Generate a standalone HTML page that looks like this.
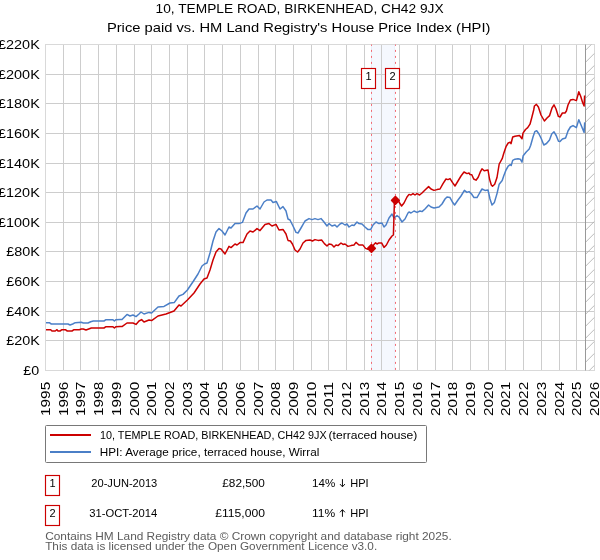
<!DOCTYPE html>
<html><head><meta charset="utf-8"><title>chart</title>
<style>html,body{margin:0;padding:0;background:#fff}svg{display:block}text{font-family:"Liberation Sans",sans-serif}</style></head><body>
<svg width="600" height="560" viewBox="0 0 600 560">
<rect width="600" height="560" fill="#fff"/>
<rect x="371.1" y="44.50" width="23.7" height="326.00" fill="#f5f8fe"/>
<path d="M371.5 44.50V370.50" stroke="#e6edfa" stroke-width="1" fill="none"/>
<path d="M394.5 44.50V370.50" stroke="#e9effb" stroke-width="0.8" fill="none"/>
<path d="M63.5 44.5V371.0M80.5 44.5V371.0M98.5 44.5V371.0M116.5 44.5V371.0M134.5 44.5V371.0M151.5 44.5V371.0M169.5 44.5V371.0M187.5 44.5V371.0M204.5 44.5V371.0M222.5 44.5V371.0M240.5 44.5V371.0M258.5 44.5V371.0M275.5 44.5V371.0M293.5 44.5V371.0M311.5 44.5V371.0M328.5 44.5V371.0M346.5 44.5V371.0M364.5 44.5V371.0M381.5 44.5V371.0M399.5 44.5V371.0M417.5 44.5V371.0M435.5 44.5V371.0M452.5 44.5V371.0M470.5 44.5V371.0M488.5 44.5V371.0M505.5 44.5V371.0M523.5 44.5V371.0M541.5 44.5V371.0M559.5 44.5V371.0M576.5 44.5V371.0M45.0 340.5H595.0M45.0 311.5H595.0M45.0 281.5H595.0M45.0 251.5H595.0M45.0 222.5H595.0M45.0 192.5H595.0M45.0 163.5H595.0M45.0 133.5H595.0M45.0 103.5H595.0M45.0 74.5H595.0" stroke="#cdcdcd" stroke-width="1" fill="none"/>
<path d="M45.5 44.5V371.0M594.5 44.5V371.0M45.0 370.5H595.0M45.0 44.5H595.0" stroke="#d9d9d9" stroke-width="1" fill="none"/>
<defs><clipPath id="hc"><rect x="585.50" y="44.50" width="9.01" height="326.00"/></clipPath></defs>
<path d="M585.50 26.30L594.51 17.29M585.50 38.30L594.51 29.29M585.50 50.30L594.51 41.29M585.50 62.30L594.51 53.29M585.50 74.30L594.51 65.29M585.50 86.30L594.51 77.29M585.50 98.30L594.51 89.29M585.50 110.30L594.51 101.29M585.50 122.30L594.51 113.29M585.50 134.30L594.51 125.29M585.50 146.30L594.51 137.29M585.50 158.30L594.51 149.29M585.50 170.30L594.51 161.29M585.50 182.30L594.51 173.29M585.50 194.30L594.51 185.29M585.50 206.30L594.51 197.29M585.50 218.30L594.51 209.29M585.50 230.30L594.51 221.29M585.50 242.30L594.51 233.29M585.50 254.30L594.51 245.29M585.50 266.30L594.51 257.29M585.50 278.30L594.51 269.29M585.50 290.30L594.51 281.29M585.50 302.30L594.51 293.29M585.50 314.30L594.51 305.29M585.50 326.30L594.51 317.29M585.50 338.30L594.51 329.29M585.50 350.30L594.51 341.29M585.50 362.30L594.51 353.29M585.50 374.30L594.51 365.29M585.50 386.30L594.51 377.29M585.50 398.30L594.51 389.29M585.50 410.30L594.51 401.29M585.50 422.30L594.51 413.29M585.50 434.30L594.51 425.29M585.50 446.30L594.51 437.29M585.50 458.30L594.51 449.29M585.50 470.30L594.51 461.29M585.50 482.30L594.51 473.29M585.50 494.30L594.51 485.29M585.50 506.30L594.51 497.29M585.50 518.30L594.51 509.29" stroke="#a9a9a9" stroke-width="0.8" fill="none" clip-path="url(#hc)"/>
<path d="M585.50 44.50V370.50" stroke="#999999" stroke-width="1" fill="none"/>
<path d="M371.5 44.50V370.50" stroke="#f26c74" stroke-width="1" stroke-dasharray="2 4" stroke-dashoffset="0.6" fill="none"/>
<path d="M395.5 44.50V370.50" stroke="#f26c74" stroke-width="1" stroke-dasharray="2 4" stroke-dashoffset="0.6" fill="none"/>
<polyline points="46.0,322.7 49.3,322.7 51.3,324.0 68.0,324.0 70.0,325.0 72.7,324.0 75.3,322.7 81.3,322.3 83.3,323.0 88.0,323.0 90.7,321.7 93.3,321.0 104.0,321.0 106.0,319.7 112.7,319.7 114.4,321.0 116.0,319.7 120.0,319.6 122.0,319.6 127.0,314.4 130.0,316.0 133.0,315.0 136.0,316.6 139.0,314.0 141.0,312.0 144.0,314.0 149.0,312.4 151.6,313.0 158.0,307.0 164.0,306.4 170.0,303.0 174.4,302.4 179.0,296.0 183.0,294.4 187.4,290.0 193.5,281.0 198.0,274.0 202.0,266.0 204.5,264.0 207.0,263.0 210.0,253.0 213.0,241.0 216.0,232.0 219.0,228.6 222.0,231.0 225.0,235.0 229.0,227.0 231.0,228.0 235.0,223.6 239.0,223.6 242.4,222.4 246.0,213.0 249.0,209.0 253.0,209.0 257.0,206.0 260.0,209.0 264.0,202.0 267.0,200.0 271.0,200.0 273.0,202.4 276.4,201.6 280.0,209.0 283.0,206.6 286.0,211.0 288.0,219.0 290.0,220.0 293.0,226.0 296.0,232.4 298.0,233.0 301.0,228.0 305.0,221.0 309.0,218.6 312.0,219.6 315.0,218.6 318.0,219.6 321.0,218.6 324.0,222.0 327.0,226.0 329.0,223.6 332.0,226.0 335.0,225.0 337.0,227.0 340.0,224.0 342.0,223.0 345.0,225.0 347.0,224.0 349.0,227.0 352.0,225.0 354.0,225.6 357.0,222.0 359.0,223.6 362.0,224.0 365.0,227.0 368.0,229.6 370.6,229.6 373.0,225.0 376.0,222.0 379.0,223.6 382.0,223.0 384.0,227.0 386.0,225.0 389.0,218.0 392.0,214.0 394.0,218.0 397.0,215.6 399.0,217.0 402.0,222.0 405.0,219.0 408.0,213.0 409.0,212.0 411.0,213.0 414.0,211.0 417.0,212.4 420.0,211.0 422.0,211.6 425.0,209.0 428.6,205.0 431.0,207.0 434.0,208.0 439.0,207.0 442.0,204.0 445.0,199.0 447.0,197.0 450.0,197.6 452.4,202.0 454.6,205.0 458.0,200.0 461.0,196.0 464.4,190.4 467.0,192.4 469.0,191.6 471.6,194.0 474.0,197.6 477.0,197.6 479.6,193.0 482.0,189.0 485.0,190.4 488.0,190.0 490.0,199.0 492.0,205.0 494.4,202.4 497.0,193.6 499.2,184.2 502.2,180.5 503.7,176.0 506.0,170.0 508.2,166.2 510.2,164.7 511.2,165.5 512.7,160.4 515.0,159.2 518.0,158.7 520.2,159.2 522.0,162.2 523.2,155.7 526.2,152.0 529.2,149.0 530.7,145.2 533.0,137.0 534.8,131.7 536.7,130.7 539.0,134.0 541.2,138.5 543.8,145.0 546.5,143.5 549.5,140.0 551.7,134.0 554.0,131.8 556.2,135.5 558.5,141.3 560.0,141.6 562.4,139.0 565.6,138.0 568.0,131.0 570.4,127.0 573.0,125.6 576.4,127.6 578.8,119.8 580.6,124.0 584.1,132.4 584.7,122.4" fill="none" stroke="#4b7fc7" stroke-width="1.5" stroke-linejoin="round" stroke-linecap="butt"/>
<polyline points="46.0,329.7 50.7,329.7 52.0,331.0 55.3,331.0 57.0,329.7 58.0,331.0 60.0,331.0 62.0,329.7 65.3,329.7 67.3,331.0 72.0,331.0 74.0,329.7 79.3,329.7 81.3,329.0 83.3,329.0 86.0,330.0 88.7,329.0 91.3,328.0 104.0,328.0 106.0,326.7 112.7,326.7 114.4,328.0 116.0,326.7 120.0,326.4 122.0,326.6 127.0,323.0 133.0,323.0 136.0,324.4 139.0,321.0 141.6,319.6 144.0,322.0 149.0,320.0 151.6,320.6 158.0,316.0 166.0,314.0 174.0,311.0 179.0,305.0 181.0,306.0 187.4,300.0 194.0,293.0 200.0,284.0 204.0,279.0 207.0,278.0 210.0,270.0 213.0,260.0 216.0,252.0 219.0,248.6 221.0,249.0 225.0,254.0 229.0,246.4 231.0,247.6 235.0,244.0 237.0,245.0 240.0,242.6 243.0,242.6 247.0,234.0 250.0,231.0 253.0,232.0 257.0,228.6 260.0,230.6 265.0,224.6 269.0,223.6 272.0,226.0 276.0,224.4 279.0,230.0 283.0,229.4 286.0,234.0 288.0,240.4 290.4,241.0 292.4,244.0 295.0,250.0 297.6,252.0 300.0,249.0 303.0,243.0 306.0,240.4 310.0,240.0 312.4,241.0 315.0,239.6 318.0,240.4 321.6,240.0 324.4,243.6 327.0,246.0 329.0,244.0 331.6,244.4 334.0,247.0 336.0,245.0 338.0,245.6 341.0,243.0 343.0,244.4 345.0,244.0 348.0,246.4 351.0,245.6 354.0,245.0 356.0,242.4 359.0,245.0 362.8,244.9 365.5,248.4 368.0,249.3 371.4,248.5 374.2,244.2 375.6,242.7 377.0,244.0 378.9,242.9 381.6,242.9 384.0,247.4 386.4,245.0 389.0,240.0 392.0,236.0 393.4,235.0 394.4,202.0 395.4,200.0 398.0,200.5 401.6,206.0 404.0,203.0 407.0,197.0 409.0,194.4 411.0,195.0 413.0,193.6 415.0,195.0 417.0,193.6 419.6,195.0 422.0,193.0 425.0,190.0 428.6,186.6 431.0,189.0 434.0,190.4 437.0,189.6 440.0,189.0 443.0,183.6 446.0,179.0 448.0,179.6 450.0,178.6 452.4,182.4 455.0,186.0 458.0,181.0 461.0,176.0 464.0,172.0 467.0,173.6 469.0,173.0 470.0,174.5 471.8,174.8 473.7,179.0 476.0,180.2 478.2,177.2 480.2,172.2 482.0,168.8 484.2,170.7 488.0,170.0 489.5,179.0 491.3,185.0 492.5,186.2 494.7,184.2 497.0,177.5 499.2,164.0 502.2,158.7 503.7,153.5 506.0,146.7 508.2,143.0 510.2,142.2 511.0,143.7 512.7,137.0 515.0,136.2 519.5,135.5 522.0,138.8 523.0,133.2 525.5,129.5 527.7,127.7 530.0,124.2 531.8,117.5 533.7,110.0 534.4,106.0 536.4,104.4 538.4,107.0 541.0,115.0 544.4,121.0 547.0,118.0 549.6,115.6 552.0,108.0 554.0,104.8 556.0,109.0 558.4,116.4 560.0,117.0 562.4,113.0 565.0,113.0 566.4,111.0 568.0,105.0 570.4,100.0 573.0,99.4 576.4,100.6 578.8,91.8 580.6,96.0 582.6,102.5 584.1,106.0 584.6,95.5" fill="none" stroke="#cc0000" stroke-width="1.5" stroke-linejoin="round" stroke-linecap="butt"/>
<path d="M371.45 244.75L375.15 248.45L371.45 252.14999999999998L367.75 248.45Z" fill="#cc0000" stroke="#cc0000" stroke-width="1.8" stroke-linejoin="round"/>
<path d="M395.4 196.75L399.09999999999997 200.45L395.4 204.14999999999998L391.7 200.45Z" fill="#cc0000" stroke="#cc0000" stroke-width="1.8" stroke-linejoin="round"/>
<rect x="361.5" y="68.5" width="14" height="20" fill="#fff" stroke="#cc0000" stroke-width="1.15"/>
<rect x="385.5" y="68.5" width="14" height="20" fill="#fff" stroke="#cc0000" stroke-width="1.15"/>
<rect x="45.5" y="425.5" width="381" height="37" rx="1" fill="#fff" stroke="#787878" stroke-width="1"/>
<path d="M50 435H91" stroke="#cc0000" stroke-width="2"/>
<path d="M50 452H91" stroke="#4b7fc7" stroke-width="2"/>
<rect x="45.5" y="475.5" width="14" height="20" fill="#fff" stroke="#cc0000" stroke-width="1.15"/>
<rect x="45.5" y="505.5" width="14" height="20" fill="#fff" stroke="#cc0000" stroke-width="1.15"/>
<path d="M342.45 479.1V486.6M340.0 484.1L342.45 486.8L344.9 484.1" stroke="#000" stroke-width="0.95" fill="none"/>
<path d="M342.45 516.8V509.9M340.0 512.3L342.45 509.6L344.9 512.3" stroke="#000" stroke-width="0.95" fill="none"/>
<g style="filter:grayscale(1)">
<text x="368.50" y="79.90" font-size="11" text-anchor="middle" fill="#000">1</text>
<text x="392.50" y="79.90" font-size="11" text-anchor="middle" fill="#000">2</text>
<text x="155.60" y="12.90" font-size="12.6" text-anchor="start" fill="#000" textLength="288.0" lengthAdjust="spacingAndGlyphs">10, TEMPLE ROAD, BIRKENHEAD, CH42 9JX</text>
<text x="106.90" y="31.70" font-size="12.6" text-anchor="start" fill="#000" textLength="383.5" lengthAdjust="spacingAndGlyphs">Price paid vs. HM Land Registry's House Price Index (HPI)</text>
<text x="23.30" y="374.60" font-size="12.8" text-anchor="start" fill="#000" textLength="15.9" lengthAdjust="spacingAndGlyphs">£0</text>
<text x="6.20" y="344.60" font-size="12.8" text-anchor="start" fill="#000" textLength="33.6" lengthAdjust="spacingAndGlyphs">£20K</text>
<text x="6.20" y="315.60" font-size="12.8" text-anchor="start" fill="#000" textLength="33.6" lengthAdjust="spacingAndGlyphs">£40K</text>
<text x="6.20" y="285.60" font-size="12.8" text-anchor="start" fill="#000" textLength="33.6" lengthAdjust="spacingAndGlyphs">£60K</text>
<text x="6.20" y="255.60" font-size="12.8" text-anchor="start" fill="#000" textLength="33.6" lengthAdjust="spacingAndGlyphs">£80K</text>
<text x="-2.00" y="226.60" font-size="12.8" text-anchor="start" fill="#000" textLength="41.8" lengthAdjust="spacingAndGlyphs">£100K</text>
<text x="-2.00" y="196.60" font-size="12.8" text-anchor="start" fill="#000" textLength="41.8" lengthAdjust="spacingAndGlyphs">£120K</text>
<text x="-2.00" y="167.60" font-size="12.8" text-anchor="start" fill="#000" textLength="41.8" lengthAdjust="spacingAndGlyphs">£140K</text>
<text x="-2.00" y="137.60" font-size="12.8" text-anchor="start" fill="#000" textLength="41.8" lengthAdjust="spacingAndGlyphs">£160K</text>
<text x="-2.00" y="107.60" font-size="12.8" text-anchor="start" fill="#000" textLength="41.8" lengthAdjust="spacingAndGlyphs">£180K</text>
<text x="-2.00" y="78.60" font-size="12.8" text-anchor="start" fill="#000" textLength="41.8" lengthAdjust="spacingAndGlyphs">£200K</text>
<text x="-2.00" y="48.60" font-size="12.8" text-anchor="start" fill="#000" textLength="41.8" lengthAdjust="spacingAndGlyphs">£220K</text>
<text transform="translate(50.00,416.0) rotate(-90)" font-size="12.6" textLength="34.2" lengthAdjust="spacingAndGlyphs">1995</text>
<text transform="translate(67.71,416.0) rotate(-90)" font-size="12.6" textLength="34.2" lengthAdjust="spacingAndGlyphs">1996</text>
<text transform="translate(85.42,416.0) rotate(-90)" font-size="12.6" textLength="34.2" lengthAdjust="spacingAndGlyphs">1997</text>
<text transform="translate(103.13,416.0) rotate(-90)" font-size="12.6" textLength="34.2" lengthAdjust="spacingAndGlyphs">1998</text>
<text transform="translate(120.84,416.0) rotate(-90)" font-size="12.6" textLength="34.2" lengthAdjust="spacingAndGlyphs">1999</text>
<text transform="translate(138.55,416.0) rotate(-90)" font-size="12.6" textLength="34.2" lengthAdjust="spacingAndGlyphs">2000</text>
<text transform="translate(156.26,416.0) rotate(-90)" font-size="12.6" textLength="34.2" lengthAdjust="spacingAndGlyphs">2001</text>
<text transform="translate(173.97,416.0) rotate(-90)" font-size="12.6" textLength="34.2" lengthAdjust="spacingAndGlyphs">2002</text>
<text transform="translate(191.68,416.0) rotate(-90)" font-size="12.6" textLength="34.2" lengthAdjust="spacingAndGlyphs">2003</text>
<text transform="translate(209.39,416.0) rotate(-90)" font-size="12.6" textLength="34.2" lengthAdjust="spacingAndGlyphs">2004</text>
<text transform="translate(227.10,416.0) rotate(-90)" font-size="12.6" textLength="34.2" lengthAdjust="spacingAndGlyphs">2005</text>
<text transform="translate(244.81,416.0) rotate(-90)" font-size="12.6" textLength="34.2" lengthAdjust="spacingAndGlyphs">2006</text>
<text transform="translate(262.52,416.0) rotate(-90)" font-size="12.6" textLength="34.2" lengthAdjust="spacingAndGlyphs">2007</text>
<text transform="translate(280.23,416.0) rotate(-90)" font-size="12.6" textLength="34.2" lengthAdjust="spacingAndGlyphs">2008</text>
<text transform="translate(297.94,416.0) rotate(-90)" font-size="12.6" textLength="34.2" lengthAdjust="spacingAndGlyphs">2009</text>
<text transform="translate(315.65,416.0) rotate(-90)" font-size="12.6" textLength="34.2" lengthAdjust="spacingAndGlyphs">2010</text>
<text transform="translate(333.36,416.0) rotate(-90)" font-size="12.6" textLength="34.2" lengthAdjust="spacingAndGlyphs">2011</text>
<text transform="translate(351.07,416.0) rotate(-90)" font-size="12.6" textLength="34.2" lengthAdjust="spacingAndGlyphs">2012</text>
<text transform="translate(368.78,416.0) rotate(-90)" font-size="12.6" textLength="34.2" lengthAdjust="spacingAndGlyphs">2013</text>
<text transform="translate(386.49,416.0) rotate(-90)" font-size="12.6" textLength="34.2" lengthAdjust="spacingAndGlyphs">2014</text>
<text transform="translate(404.20,416.0) rotate(-90)" font-size="12.6" textLength="34.2" lengthAdjust="spacingAndGlyphs">2015</text>
<text transform="translate(421.91,416.0) rotate(-90)" font-size="12.6" textLength="34.2" lengthAdjust="spacingAndGlyphs">2016</text>
<text transform="translate(439.62,416.0) rotate(-90)" font-size="12.6" textLength="34.2" lengthAdjust="spacingAndGlyphs">2017</text>
<text transform="translate(457.33,416.0) rotate(-90)" font-size="12.6" textLength="34.2" lengthAdjust="spacingAndGlyphs">2018</text>
<text transform="translate(475.04,416.0) rotate(-90)" font-size="12.6" textLength="34.2" lengthAdjust="spacingAndGlyphs">2019</text>
<text transform="translate(492.75,416.0) rotate(-90)" font-size="12.6" textLength="34.2" lengthAdjust="spacingAndGlyphs">2020</text>
<text transform="translate(510.46,416.0) rotate(-90)" font-size="12.6" textLength="34.2" lengthAdjust="spacingAndGlyphs">2021</text>
<text transform="translate(528.17,416.0) rotate(-90)" font-size="12.6" textLength="34.2" lengthAdjust="spacingAndGlyphs">2022</text>
<text transform="translate(545.88,416.0) rotate(-90)" font-size="12.6" textLength="34.2" lengthAdjust="spacingAndGlyphs">2023</text>
<text transform="translate(563.59,416.0) rotate(-90)" font-size="12.6" textLength="34.2" lengthAdjust="spacingAndGlyphs">2024</text>
<text transform="translate(581.30,416.0) rotate(-90)" font-size="12.6" textLength="34.2" lengthAdjust="spacingAndGlyphs">2025</text>
<text transform="translate(599.01,416.0) rotate(-90)" font-size="12.6" textLength="34.2" lengthAdjust="spacingAndGlyphs">2026</text>
<text x="100.00" y="439.00" font-size="11.2" text-anchor="start" fill="#000" textLength="226.6" lengthAdjust="spacingAndGlyphs">10, TEMPLE ROAD, BIRKENHEAD, CH42 9JX</text>
<text x="328.60" y="439.00" font-size="11.2" text-anchor="start" fill="#000" textLength="88.7" lengthAdjust="spacingAndGlyphs">(terraced house)</text>
<text x="99.80" y="455.70" font-size="11.2" text-anchor="start" fill="#000" textLength="219.5" lengthAdjust="spacingAndGlyphs">HPI: Average price, terraced house, Wirral</text>
<text x="52.50" y="486.90" font-size="11" text-anchor="middle" fill="#000">1</text>
<text x="52.50" y="516.90" font-size="11" text-anchor="middle" fill="#000">2</text>
<text x="91.30" y="486.90" font-size="11" text-anchor="start" fill="#000" textLength="66.0" lengthAdjust="spacingAndGlyphs">20-JUN-2013</text>
<text x="89.30" y="516.80" font-size="11" text-anchor="start" fill="#000" textLength="68.0" lengthAdjust="spacingAndGlyphs">31-OCT-2014</text>
<text x="222.30" y="486.90" font-size="11" text-anchor="start" fill="#000" textLength="42.6" lengthAdjust="spacingAndGlyphs">£82,500</text>
<text x="215.20" y="516.80" font-size="11" text-anchor="start" fill="#000" textLength="49.7" lengthAdjust="spacingAndGlyphs">£115,000</text>
<text x="312.00" y="486.90" font-size="11" text-anchor="start" fill="#000" textLength="23.2" lengthAdjust="spacingAndGlyphs">14%</text>
<text x="350.30" y="486.90" font-size="11" text-anchor="start" fill="#000" textLength="18.4" lengthAdjust="spacingAndGlyphs">HPI</text>
<text x="312.00" y="516.80" font-size="11" text-anchor="start" fill="#000" textLength="23.2" lengthAdjust="spacingAndGlyphs">11%</text>
<text x="350.30" y="516.80" font-size="11" text-anchor="start" fill="#000" textLength="18.4" lengthAdjust="spacingAndGlyphs">HPI</text>
<text x="45.20" y="539.70" font-size="10.4" text-anchor="start" fill="#5c5c5c" textLength="406.5" lengthAdjust="spacingAndGlyphs">Contains HM Land Registry data © Crown copyright and database right 2025.</text>
<text x="45.20" y="549.70" font-size="10.4" text-anchor="start" fill="#5c5c5c" textLength="332.0" lengthAdjust="spacingAndGlyphs">This data is licensed under the Open Government Licence v3.0.</text>
</g>
</svg></body></html>
